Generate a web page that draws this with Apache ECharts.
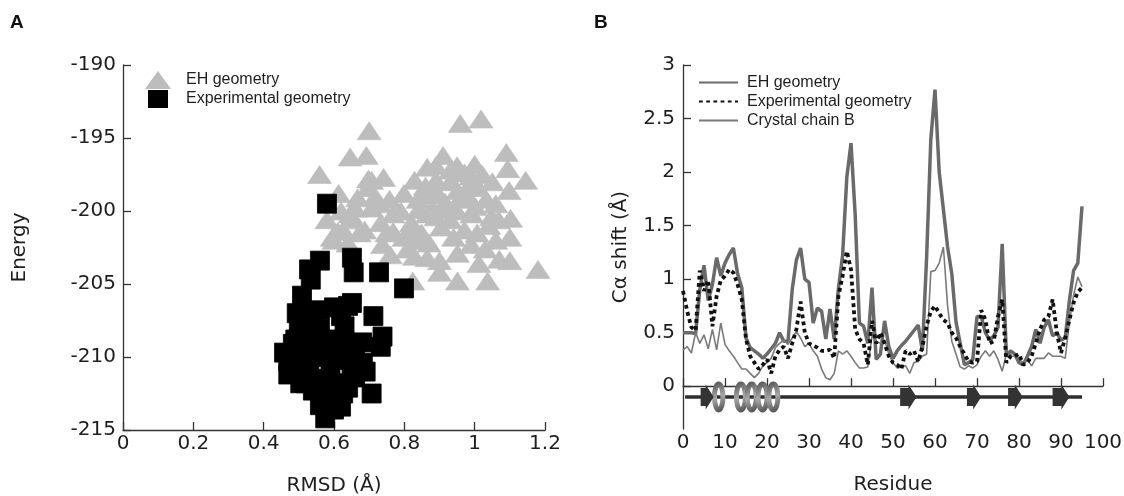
<!DOCTYPE html>
<html><head><meta charset="utf-8">
<script src="https://cdn.jsdelivr.net/npm/echarts@6/dist/echarts.min.js"></script>
<style>html,body{margin:0;padding:0;background:#fff}#c{width:1124px;height:496px}</style>
</head><body><div id="c"></div>
<script>
// ---------- Panel A data: [RMSD, Energy] ----------
const ehTriangles = [
[0.700,-194.5],[0.959,-194.0],[1.018,-193.7],
[0.646,-196.3],[0.692,-196.2],[0.559,-197.5],[0.613,-198.8],[0.698,-197.8],[0.741,-197.7],
[1.090,-196.0],[1.094,-197.1],[1.145,-197.9],[1.098,-198.6],[1.102,-200.5],[1.100,-201.8],[1.100,-203.4],[1.180,-204.0],
[1.037,-204.8],[0.951,-204.8],[0.900,-204.2],[0.824,-204.8],[1.012,-203.6],[0.951,-202.9],[0.865,-203.2],[0.870,-202.2],
[0.809,-202.6],[0.738,-202.3],[0.768,-201.4],[0.814,-201.4],[0.865,-200.2],[0.931,-200.6],[0.905,-201.1],[0.956,-199.2],
[1.002,-199.7],[1.048,-200.4],[1.007,-201.5],[1.068,-200.6],[0.971,-197.4],[1.022,-197.5],[0.910,-196.2],[0.865,-197.0],
[0.890,-197.9],[0.829,-197.9],[0.799,-198.8],[0.758,-199.2],[0.697,-198.4],[0.707,-197.9],[0.667,-199.1],[0.646,-200.2],
[0.707,-199.8],[0.687,-201.3],[0.626,-201.3],[0.580,-200.6],[0.595,-201.8],[0.768,-200.2],[0.839,-199.2],[0.895,-198.8],
[0.931,-197.2],[0.982,-198.3],[0.951,-198.6],[0.916,-199.4],[0.971,-201.3],[0.849,-201.5],[0.829,-203.1],[0.799,-201.8],
[0.733,-200.8],[0.656,-200.6],[0.900,-203.4],[1.033,-199.2],[0.992,-200.2],[0.717,-199.0],[0.672,-201.5],[0.611,-201.4],
[0.860,-198.3],[0.930,-198.0],[0.990,-197.6],[1.050,-198.0],[0.880,-199.8],[0.790,-200.0],[1.040,-201.0],[0.640,-202.2],[0.600,-202.0],
[0.840,-199.9],[0.870,-198.9],[0.920,-199.9],[0.950,-200.0],[0.980,-199.0],[1.010,-198.4],[1.060,-199.5],[0.820,-200.8],
[0.890,-200.4],[0.940,-201.8],[0.990,-202.3],[1.060,-202.0],[0.760,-203.0],[0.840,-202.0],[0.730,-199.5],[0.750,-201.5],
[0.660,-199.8],[0.620,-200.0],[1.070,-203.3],[1.030,-202.6],[0.950,-196.9],[0.890,-196.9],[1.000,-196.8]
];
const expSquares = [
[0.580,-199.5],[0.560,-203.4],[0.529,-204.0],[0.534,-204.7],[0.651,-203.2],[0.656,-204.2],[0.728,-204.2],[0.799,-205.3],
[0.509,-205.8],[0.494,-207.0],[0.651,-206.3],[0.600,-206.6],[0.712,-207.2],[0.738,-208.6],[0.733,-209.3],[0.682,-210.4],
[0.707,-212.5],[0.458,-209.7],[0.483,-209.1],[0.504,-211.8],[0.575,-214.2],[0.600,-213.6],[0.626,-212.5],
[0.50,-207.5],[0.52,-208.2],[0.54,-207.0],[0.56,-206.8],[0.62,-207.2],[0.64,-206.5],[0.63,-207.9],[0.63,-209.0],
[0.55,-209.0],[0.51,-209.8],[0.53,-210.5],[0.57,-210.0],[0.61,-210.2],[0.65,-210.8],[0.59,-211.0],[0.55,-211.5],
[0.52,-211.8],[0.58,-212.2],[0.62,-211.8],[0.57,-213.0],[0.60,-212.8],[0.49,-208.8],[0.47,-210.3],[0.50,-210.8],
[0.54,-212.3],[0.64,-212.1],[0.66,-209.8],[0.56,-208.1],[0.60,-209.5],[0.56,-213.3],[0.68,-209.0],
[0.47,-211.2],[0.53,-209.3],[0.58,-208.8],[0.62,-213.4],[0.66,-211.4],[0.69,-211.0]
];
const rmsdTicks = [0, 0.2, 0.4, 0.6, 0.8, 1, 1.2];
const energyTicks = [-215, -210, -205, -200, -195, -190];

// ---------- Panel B data: C-alpha shift per residue (residue = index) ----------
const ehShift = [
0.50,0.50,0.50,0.49,0.90,1.13,0.80,0.95,1.20,1.03,1.15,1.23,1.29,1.05,0.92,0.45,0.36,0.33,0.30,0.26,
0.30,0.35,0.40,0.50,0.42,0.42,0.90,1.18,1.29,1.00,0.97,0.59,0.73,0.70,0.44,0.72,0.44,0.91,1.22,1.95,
2.27,1.60,0.59,0.56,0.40,0.92,0.25,0.30,0.61,0.37,0.26,0.33,0.38,0.42,0.47,0.52,0.57,0.33,1.20,2.30,
2.77,2.00,1.65,1.30,1.05,0.60,0.40,0.20,0.22,0.25,0.65,0.65,0.50,0.43,0.47,0.55,1.33,0.28,0.33,0.30,
0.22,0.20,0.28,0.37,0.53,0.40,0.55,0.62,0.47,0.50,0.43,0.45,0.80,1.08,1.15,1.68
];
const expShift = [
0.89,0.70,0.55,0.52,1.08,0.89,0.99,0.56,0.84,0.99,1.03,1.09,1.06,0.95,0.81,0.44,0.28,0.22,0.16,0.20,
0.25,0.12,0.28,0.34,0.37,0.26,0.40,0.53,0.79,0.50,0.40,0.38,0.36,0.33,0.33,0.34,0.26,0.84,1.03,1.26,
1.09,0.53,0.44,0.40,0.20,0.61,0.40,0.50,0.40,0.28,0.22,0.20,0.16,0.33,0.30,0.33,0.23,0.37,0.56,0.70,
0.75,0.68,0.62,0.59,0.50,0.45,0.37,0.30,0.23,0.22,0.23,0.71,0.62,0.40,0.42,0.65,0.81,0.22,0.28,0.28,
0.30,0.20,0.22,0.28,0.40,0.53,0.62,0.65,0.81,0.50,0.31,0.45,0.62,0.78,0.88,0.92
];
const crystalB = [
0.34,0.37,0.31,0.50,0.40,0.48,0.35,0.53,0.34,0.59,0.39,0.33,0.28,0.22,0.16,0.16,0.12,0.08,0.12,0.19,
0.22,0.26,0.36,0.40,0.43,0.39,0.45,0.51,0.45,0.37,0.40,0.33,0.28,0.16,0.08,0.06,0.12,0.33,0.30,0.33,
0.28,0.22,0.17,0.17,0.18,0.47,0.42,0.40,0.43,0.30,0.22,0.17,0.18,0.19,0.12,0.22,0.23,0.28,0.30,1.07,
1.08,1.15,1.30,0.75,0.42,0.30,0.18,0.16,0.19,0.17,0.20,0.28,0.33,0.28,0.33,0.25,0.14,0.30,0.28,0.28,
0.25,0.22,0.25,0.19,0.26,0.26,0.26,0.31,0.28,0.28,0.28,0.26,0.60,0.85,1.02,0.93
];
const residueTicks = [0,10,20,30,40,50,60,70,80,90,100];
const shiftTicks = [0, 0.5, 1, 1.5, 2, 2.5, 3];
// secondary structure (residue ranges)
const ssLevel = -0.1;
const backbone = [0.5, 95];
const strands = [[4.2, 7.3], [51.7, 55.6], [67.6, 71.0], [77.4, 80.9], [88.0, 92.0]];
const helices = [[7.3, 9.7, 1], [12.5, 22.8, 4]];

const ssData = [[0, backbone[0], backbone[1], 0]]
  .concat(helices.map(h => [2, h[0], h[1], h[2]]))
  .concat(strands.map(s => [1, s[0], s[1], 0]));

const tickFont = 'DejaVu Sans';
const txt = '#1e1e1e';
const axisCommon = {
  axisLine: { lineStyle: { color: '#333', width: 1.3 } },
  axisTick: { inside: true, length: 8, lineStyle: { color: '#333', width: 1.3 } },
  splitLine: { show: false },
  nameTextStyle: { fontFamily: tickFont, fontSize: 20, color: txt },
  nameLocation: 'middle'
};
function lab(margin) {
  return { fontFamily: tickFont, fontSize: 20, color: txt, margin: margin };
}

function renderSS(params, api) {
  const kind = api.value(0);
  const s = api.value(1), e = api.value(2), turns = api.value(3);
  const p0 = api.coord([s, ssLevel]);
  const p1 = api.coord([e, ssLevel]);
  const y = p0[1];
  if (kind === 0) {
    return { type: 'line', shape: { x1: p0[0], y1: y, x2: p1[0], y2: y },
             style: { stroke: '#2e2e2e', lineWidth: 3.5 } };
  }
  if (kind === 1) {
    const head = 8, bh = 9, hh = 12.5;
    return { type: 'polygon', shape: { points: [
      [p0[0], y - bh], [p1[0] - head, y - bh], [p1[0] - head, y - hh], [p1[0], y],
      [p1[0] - head, y + hh], [p1[0] - head, y + bh], [p0[0], y + bh]] },
      style: { fill: '#333' } };
  }
  const w = (p1[0] - p0[0]) / turns;
  const children = [];
  for (let i = 0; i < turns; i++) {
    children.push({ type: 'ellipse',
      shape: { cx: p0[0] + w * (i + 0.5), cy: y, rx: Math.max(w * 0.42, 3), ry: 13 },
      style: { fill: 'none', lineWidth: 5,
        stroke: new echarts.graphic.LinearGradient(0, 0, 1, 1, [
          { offset: 0, color: '#4a4a4a' }, { offset: 0.5, color: '#a8a8a8' }, { offset: 1, color: '#444' }]) } });
  }
  return { type: 'group', children: children };
}

const chart = echarts.init(document.getElementById('c'), null, { renderer: 'canvas' });
chart.setOption({
  animation: false,
  backgroundColor: '#fff',
  title: [
    { text: 'A', left: 10, top: 13, padding: 0, textStyle: { fontFamily: 'Liberation Sans', fontSize: 19, fontWeight: 'bold', color: '#111' } },
    { text: 'B', left: 594, top: 13, padding: 0, textStyle: { fontFamily: 'Liberation Sans', fontSize: 19, fontWeight: 'bold', color: '#111' } }
  ],
  legend: [
    { data: ['EH geometry'], left: 145, top: 71, padding: 0, itemWidth: 26, itemHeight: 18, symbolKeepAspect: false,
      itemStyle: { borderWidth: 0 },
      textStyle: { fontFamily: 'Liberation Sans', fontSize: 16, color: txt, padding: [0, 0, 0, 10] } },
    { data: ['Experimental geometry'], left: 148, top: 90, padding: 0, itemWidth: 20, itemHeight: 18, symbolKeepAspect: false,
      itemStyle: { borderWidth: 0 },
      textStyle: { fontFamily: 'Liberation Sans', fontSize: 16, color: txt, padding: [0, 0, 0, 13] } },
    { data: ['EH geometry ', 'Experimental geometry ', 'Crystal chain B'], orient: 'vertical', left: 698, top: 74.5, padding: 0,
      itemWidth: 39, itemHeight: 14, itemGap: 3, itemStyle: { opacity: 0 },
      textStyle: { fontFamily: 'Liberation Sans', fontSize: 16, color: txt, padding: [0, 0, 0, 4] } }
  ],
  grid: [
    { left: 123, top: 65, width: 422, height: 365, containLabel: false, outerBoundsMode: 'none' },
    { left: 683, top: 65, width: 420, height: 364, containLabel: false, outerBoundsMode: 'none' }
  ],
  xAxis: [
    Object.assign({}, axisCommon, { gridIndex: 0, type: 'value', min: rmsdTicks[0], max: rmsdTicks[rmsdTicks.length - 1], interval: 0.2,
      name: 'RMSD (Å)', nameGap: 46, axisLabel: lab(4) }),
    Object.assign({}, axisCommon, { gridIndex: 1, type: 'value', min: residueTicks[0], max: residueTicks[residueTicks.length - 1], interval: 10,
      name: 'Residue', nameGap: 46, axisLabel: lab(4) })
  ],
  yAxis: [
    Object.assign({}, axisCommon, { gridIndex: 0, type: 'value', min: energyTicks[0], max: energyTicks[energyTicks.length - 1], interval: 5,
      name: 'Energy', nameGap: 93, axisLabel: lab(7) }),
    Object.assign({}, axisCommon, { gridIndex: 1, type: 'value', min: -0.4, max: 3,
      axisTick: Object.assign({}, axisCommon.axisTick, { customValues: shiftTicks }),
      axisLabel: Object.assign(lab(8), { customValues: shiftTicks }),
      name: 'Cα shift (Å)', nameGap: 52 })
  ],
  series: [
    { name: 'EH geometry', type: 'scatter', xAxisIndex: 0, yAxisIndex: 0, symbol: 'triangle', symbolSize: [24, 18],
      itemStyle: { color: '#bdbdbd', opacity: 1, borderColor: '#bdbdbd', borderWidth: 0.6 }, data: ehTriangles, z: 2 },
    { name: 'Experimental geometry', type: 'scatter', xAxisIndex: 0, yAxisIndex: 0, symbol: 'rect', symbolSize: 19,
      itemStyle: { color: '#000', opacity: 1, borderColor: '#000', borderWidth: 0.8 }, data: expSquares, z: 3 },
    { name: 'secondary structure', type: 'custom', xAxisIndex: 1, yAxisIndex: 1, renderItem: renderSS,
      data: ssData, encode: { x: [1, 2] }, clip: false, z: 1, silent: true },
    { name: 'EH geometry ', type: 'line', xAxisIndex: 1, yAxisIndex: 1, symbol: 'none',
      lineStyle: { color: '#6a6a6a', width: 3.5 }, itemStyle: { color: '#6a6a6a' },
      data: ehShift.map((v, i) => [i, v]), z: 3 },
    { name: 'Crystal chain B', type: 'line', xAxisIndex: 1, yAxisIndex: 1, symbol: 'none',
      lineStyle: { color: '#7a7a7a', width: 1.6 }, itemStyle: { color: '#7a7a7a' },
      data: crystalB.map((v, i) => [i, v]), z: 4 },
    { name: 'Experimental geometry ', type: 'line', xAxisIndex: 1, yAxisIndex: 1, symbol: 'none',
      lineStyle: { color: '#111', width: 3.8, type: [3.8, 3.4] }, itemStyle: { color: '#111' },
      data: expShift.map((v, i) => [i, v]), z: 5 }
  ]
});
</script></body></html>
